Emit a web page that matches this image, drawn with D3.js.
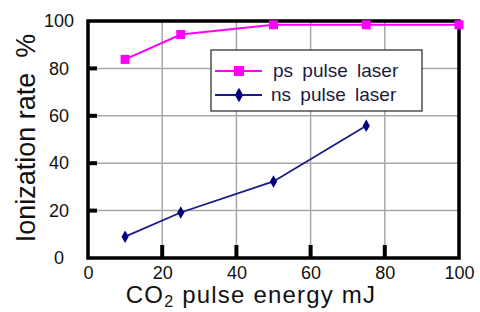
<!DOCTYPE html>
<html>
<head>
<script src="https://d3js.org/d3.v7.min.js"></script>
<style>
  body { margin: 0; background: #fff; }
  text { font-family: "Liberation Sans", Arial, sans-serif; }
</style>
</head>
<body>
<svg id="canvas" width="480" height="312"></svg>
<script>
// data
var psEnergy = [10, 25, 50, 75, 100];
var psRate = [83.8, 94.3, 98.4, 98.4, 98.4];
var nsEnergy = [10, 25, 50, 75];
var nsRate = [9, 19.2, 32.3, 55.8];
var xTicks = [0, 20, 40, 60, 80, 100];
var yTicks = [0, 20, 40, 60, 80, 100];
var seriesNames = ["ps pulse laser", "ns pulse laser"];

var svg = d3.select("#canvas");
var margin = {top: 21, right: 21, bottom: 54, left: 88};
var width = 480 - margin.left - margin.right;
var height = 312 - margin.top - margin.bottom;

var g = svg.append("g")
    .attr("transform", "translate(" + margin.left + "," + margin.top + ")");

var x = d3.scaleLinear().domain([0, 100]).range([0, width]);
var y = d3.scaleLinear().domain([0, 100]).range([height, 0]);

// grid
g.selectAll(".vgrid").data(xTicks.slice(1, -1)).enter().append("line")
    .attr("x1", d => x(d)).attr("x2", d => x(d))
    .attr("y1", 0).attr("y2", height)
    .attr("stroke", "#a8a8a8").attr("stroke-width", 1.5);
g.selectAll(".hgrid").data(yTicks.slice(1, -1)).enter().append("line")
    .attr("x1", 0).attr("x2", width)
    .attr("y1", d => y(d)).attr("y2", d => y(d))
    .attr("stroke", "#a8a8a8").attr("stroke-width", 1.5);

// axes (labels)
var yAxis = g.append("g").call(d3.axisLeft(y).tickValues(yTicks).tickSize(0).tickPadding(29));
yAxis.selectAll("text").attr("text-anchor", "middle");
var xAxis = g.append("g").attr("transform", "translate(0," + height + ")")
    .call(d3.axisBottom(x).tickValues(xTicks).tickSize(0).tickPadding(8));
[xAxis, yAxis].forEach(function(a) {
  a.select(".domain").remove();
  a.selectAll("text").attr("font-size", 18).attr("fill", "#111")
    .attr("font-family", "Liberation Sans, Arial, sans-serif");
});

// inside ticks
g.selectAll(".ytick").data(yTicks.slice(1, -1)).enter().append("line")
    .attr("x1", 0).attr("x2", 9)
    .attr("y1", d => y(d)).attr("y2", d => y(d))
    .attr("stroke", "#000").attr("stroke-width", 4);
g.selectAll(".xtick").data(xTicks.slice(1, -1)).enter().append("line")
    .attr("x1", d => x(d)).attr("x2", d => x(d))
    .attr("y1", height).attr("y2", height - 13)
    .attr("stroke", "#000").attr("stroke-width", 4);

// frame
g.append("rect").attr("x", 0).attr("y", 0)
    .attr("width", width).attr("height", height)
    .attr("fill", "none").attr("stroke", "#000").attr("stroke-width", 3.5);

// series
var line = d3.line().x(d => x(d[0])).y(d => y(d[1]));
var ps = psEnergy.map((e, i) => [e, psRate[i]]);
var ns = nsEnergy.map((e, i) => [e, nsRate[i]]);

g.append("path").datum(ps).attr("d", line)
    .attr("fill", "none").attr("stroke", "#ff00ff").attr("stroke-width", 2);
g.selectAll(".psPt").data(ps).enter().append("rect")
    .attr("x", d => x(d[0]) - 4.5).attr("y", d => y(d[1]) - 4.5)
    .attr("width", 9).attr("height", 9).attr("fill", "#ff00ff");

g.append("path").datum(ns).attr("d", line)
    .attr("fill", "none").attr("stroke", "#1a1a8c").attr("stroke-width", 1.8);
var diamond = d3.symbol().type(d3.symbolDiamond).size(45);
g.selectAll(".nsPt").data(ns).enter().append("path")
    .attr("d", diamond)
    .attr("transform", d => "translate(" + x(d[0]) + "," + y(d[1]) + ")")
    .attr("fill", "#000080");

// legend
var leg = svg.append("g").attr("transform", "translate(211,50)");
leg.append("rect").attr("width", 211).attr("height", 61)
    .attr("fill", "#fff").attr("stroke", "#222").attr("stroke-width", 1.2);
var colors = ["#ff00ff", "#1a1a8c"];
seriesNames.forEach(function(name, i) {
  var yy = 21 + i * 24;
  leg.append("line").attr("x1", 4).attr("x2", 51).attr("y1", yy).attr("y2", yy)
      .attr("stroke", colors[i]).attr("stroke-width", 2);
  if (i === 0) {
    leg.append("rect").attr("x", 23).attr("y", yy - 5).attr("width", 10).attr("height", 10)
        .attr("fill", colors[i]);
  } else {
    leg.append("path").attr("d", d3.symbol().type(d3.symbolDiamond).size(60))
        .attr("transform", "translate(28," + yy + ")").attr("fill", "#000080");
  }
  leg.append("text").attr("x", i === 0 ? 62 : 60).attr("y", yy + 6)
      .attr("font-size", 19).attr("word-spacing", 4).attr("fill", "#1a1a40").text(name);
});

// axis titles
svg.append("text")
    .attr("transform", "translate(35," + 138 + ") rotate(-90)")
    .attr("text-anchor", "middle").attr("font-size", 27).attr("fill", "#111")
    .style("white-space", "pre")
    .text("Ionization rate  %");

var xt = svg.append("text").attr("x", 251).attr("y", 303)
    .attr("text-anchor", "middle").attr("font-size", 24).attr("letter-spacing", 1.2)
    .attr("fill", "#111");
xt.append("tspan").text("CO");
xt.append("tspan").attr("font-size", 16).attr("dy", 4).text("2");
xt.append("tspan").attr("dy", -4).text(" pulse energy mJ");
</script>
</body>
</html>
